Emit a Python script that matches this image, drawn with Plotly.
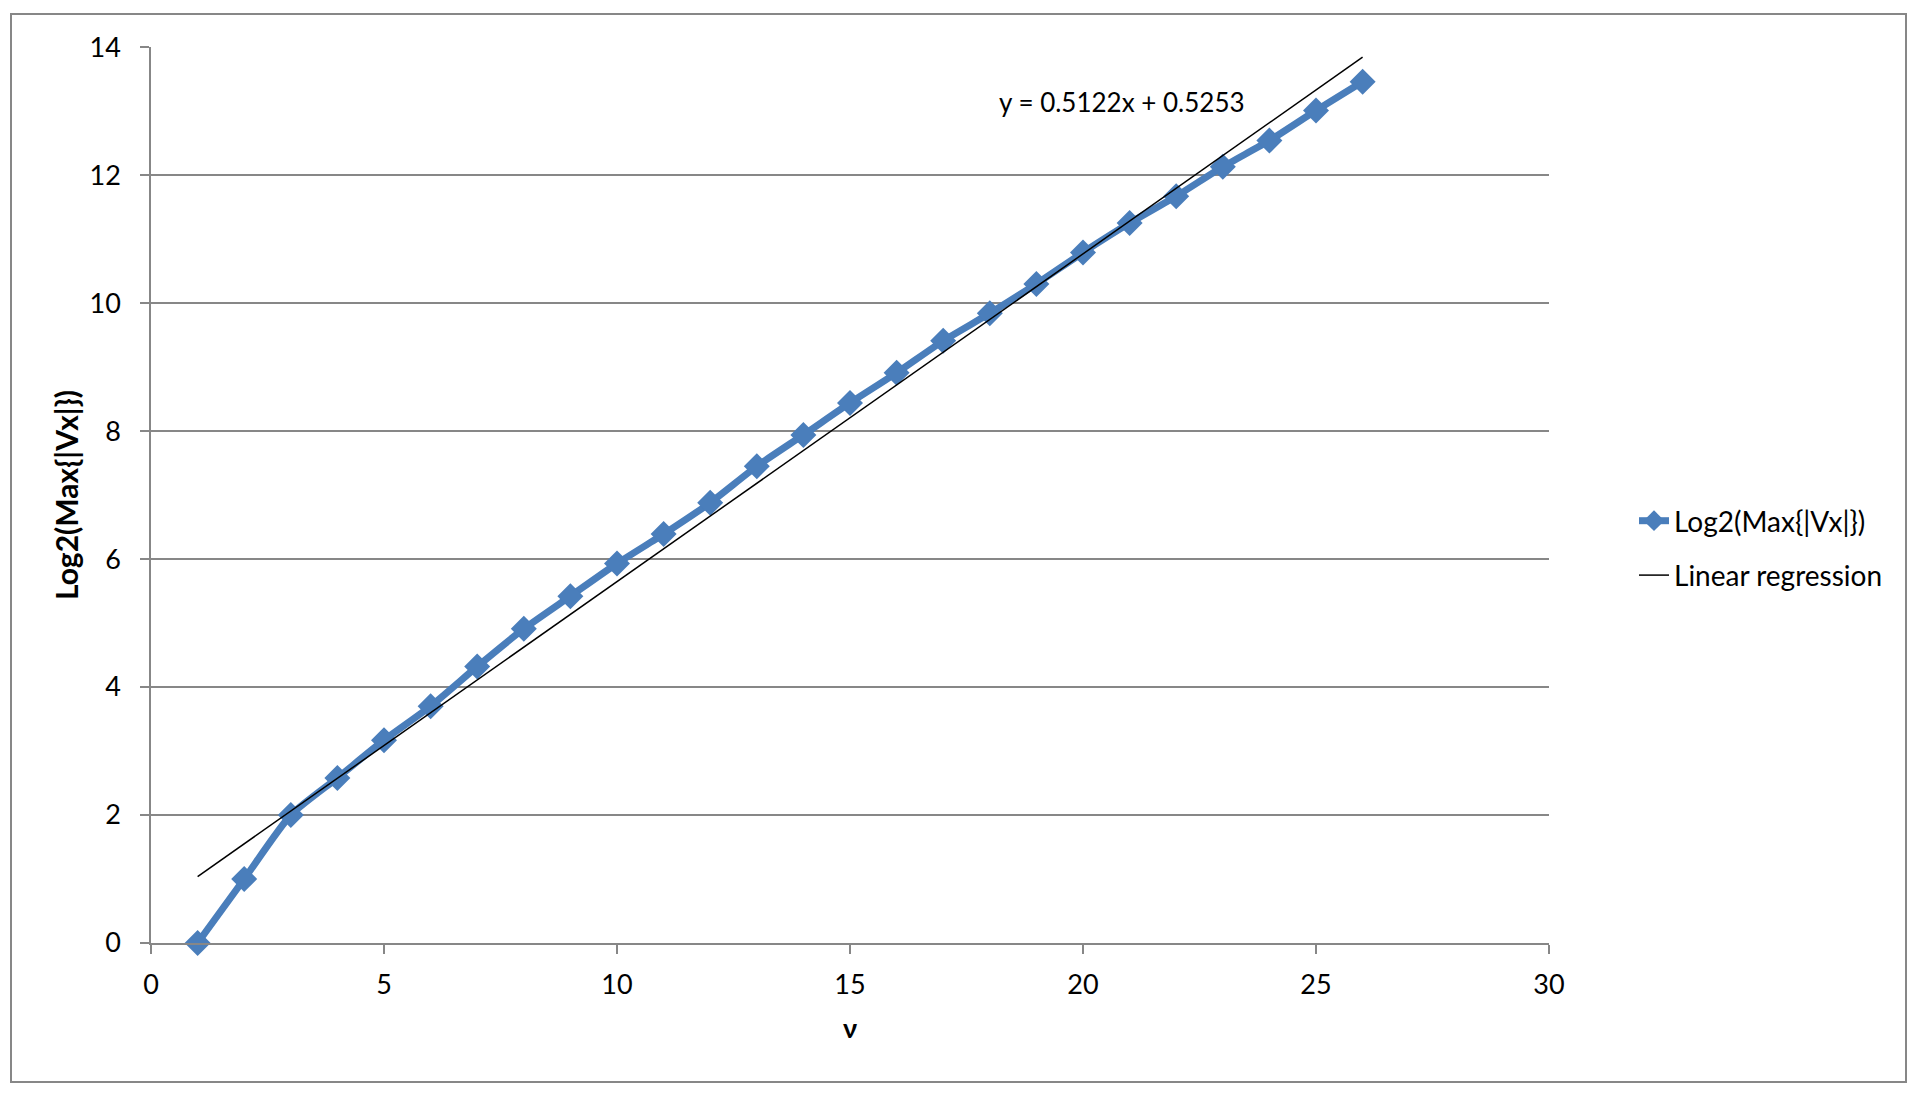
import plotly.graph_objects as go

# values
nu = list(range(1, 27))
log2_max_vx = [0, 1, 2, 2.58, 3.17, 3.70, 4.32, 4.91, 5.42, 5.93, 6.39, 6.88, 7.45,
               7.94, 8.44, 8.91, 9.41, 9.84, 10.30, 10.79, 11.25, 11.67, 12.13, 12.54,
               13.01, 13.46]

# trend line as printed on the chart
slope, intercept = 0.5122, 0.5253
fit_x = [nu[0], nu[-1]]
fit_y = [slope * x + intercept for x in fit_x]

# page body has an 8px margin, so size the figure to fit inside the window
OFF = 8
W, H = 1922 - 2 * OFF, 1097 - 2 * OFF
L, T = 151 - OFF, 47 - OFF
R, B = W - (1549 - OFF), H - (943 - OFF)
pw, ph = W - L - R, H - T - B

def px_x(p):
    return (p - OFF - L) / pw

def px_y(p):
    return (H - B - (p - OFF)) / ph

grey = "#878787"
blue = "#4A7EBB"
font = "Lato, 'Open Sans', sans-serif"

fig = go.Figure()
fig.add_trace(go.Scatter(
    x=nu, y=log2_max_vx,
    mode="lines+markers",
    name="Log2(Max{|Vx|})",
    legendgroup="a",
    cliponaxis=False,
    line=dict(color=blue, width=7, shape="spline", smoothing=0.6),
    marker=dict(symbol="diamond", size=20, color=blue),
))
fig.add_trace(go.Scatter(
    x=fit_x, y=fit_y,
    mode="lines",
    name="Linear regression",
    legendgroup="b",
    line=dict(color="black", width=1.5),
))

fig.add_annotation(
    x=18.15, y=13.15, xanchor="left", yanchor="middle",
    text=f"y = {slope}x + {intercept}", showarrow=False,
    font=dict(size=26, color="black"),
)

# outer chart border
fig.add_shape(
    type="rect", xref="paper", yref="paper",
    x0=px_x(11), x1=px_x(1906), y0=px_y(1082), y1=px_y(14),
    line=dict(color=grey, width=2), layer="below",
)

fig.update_layout(
    width=W, height=H,
    margin=dict(l=L, r=R, t=T, b=B, autoexpand=False),
    paper_bgcolor="white", plot_bgcolor="white",
    font=dict(family=font, size=27, color="black"),
    showlegend=True,
    legend=dict(
        x=px_x(1634), y=px_y(548), xanchor="left", yanchor="middle",
        font=dict(size=28), traceorder="grouped", tracegroupgap=15,
        bgcolor="rgba(0,0,0,0)",
    ),
    xaxis=dict(
        range=[0, 30], dtick=5, showgrid=False, zeroline=False,
        showline=True, linecolor=grey, linewidth=1.5,
        ticks="outside", ticklen=9, tickcolor=grey, tickwidth=1.5,
        ticklabelstandoff=8,
        title=dict(text="<b>ν</b>", font=dict(size=27), standoff=20),
    ),
    yaxis=dict(
        range=[0, 14.002], tickvals=[0, 2, 4, 6, 8, 10, 12, 14],
        showgrid=True, gridcolor=grey, gridwidth=1.5,
        zeroline=False, showline=True, linecolor=grey, linewidth=1.5,
        ticks="outside", ticklen=9, tickcolor=grey, tickwidth=1.5,
        ticklabelstandoff=14,
        title=dict(text="<b>Log2(Max{|Vx|})</b>", font=dict(size=30), standoff=2),
    ),
)

fig.write_html("out.html")
